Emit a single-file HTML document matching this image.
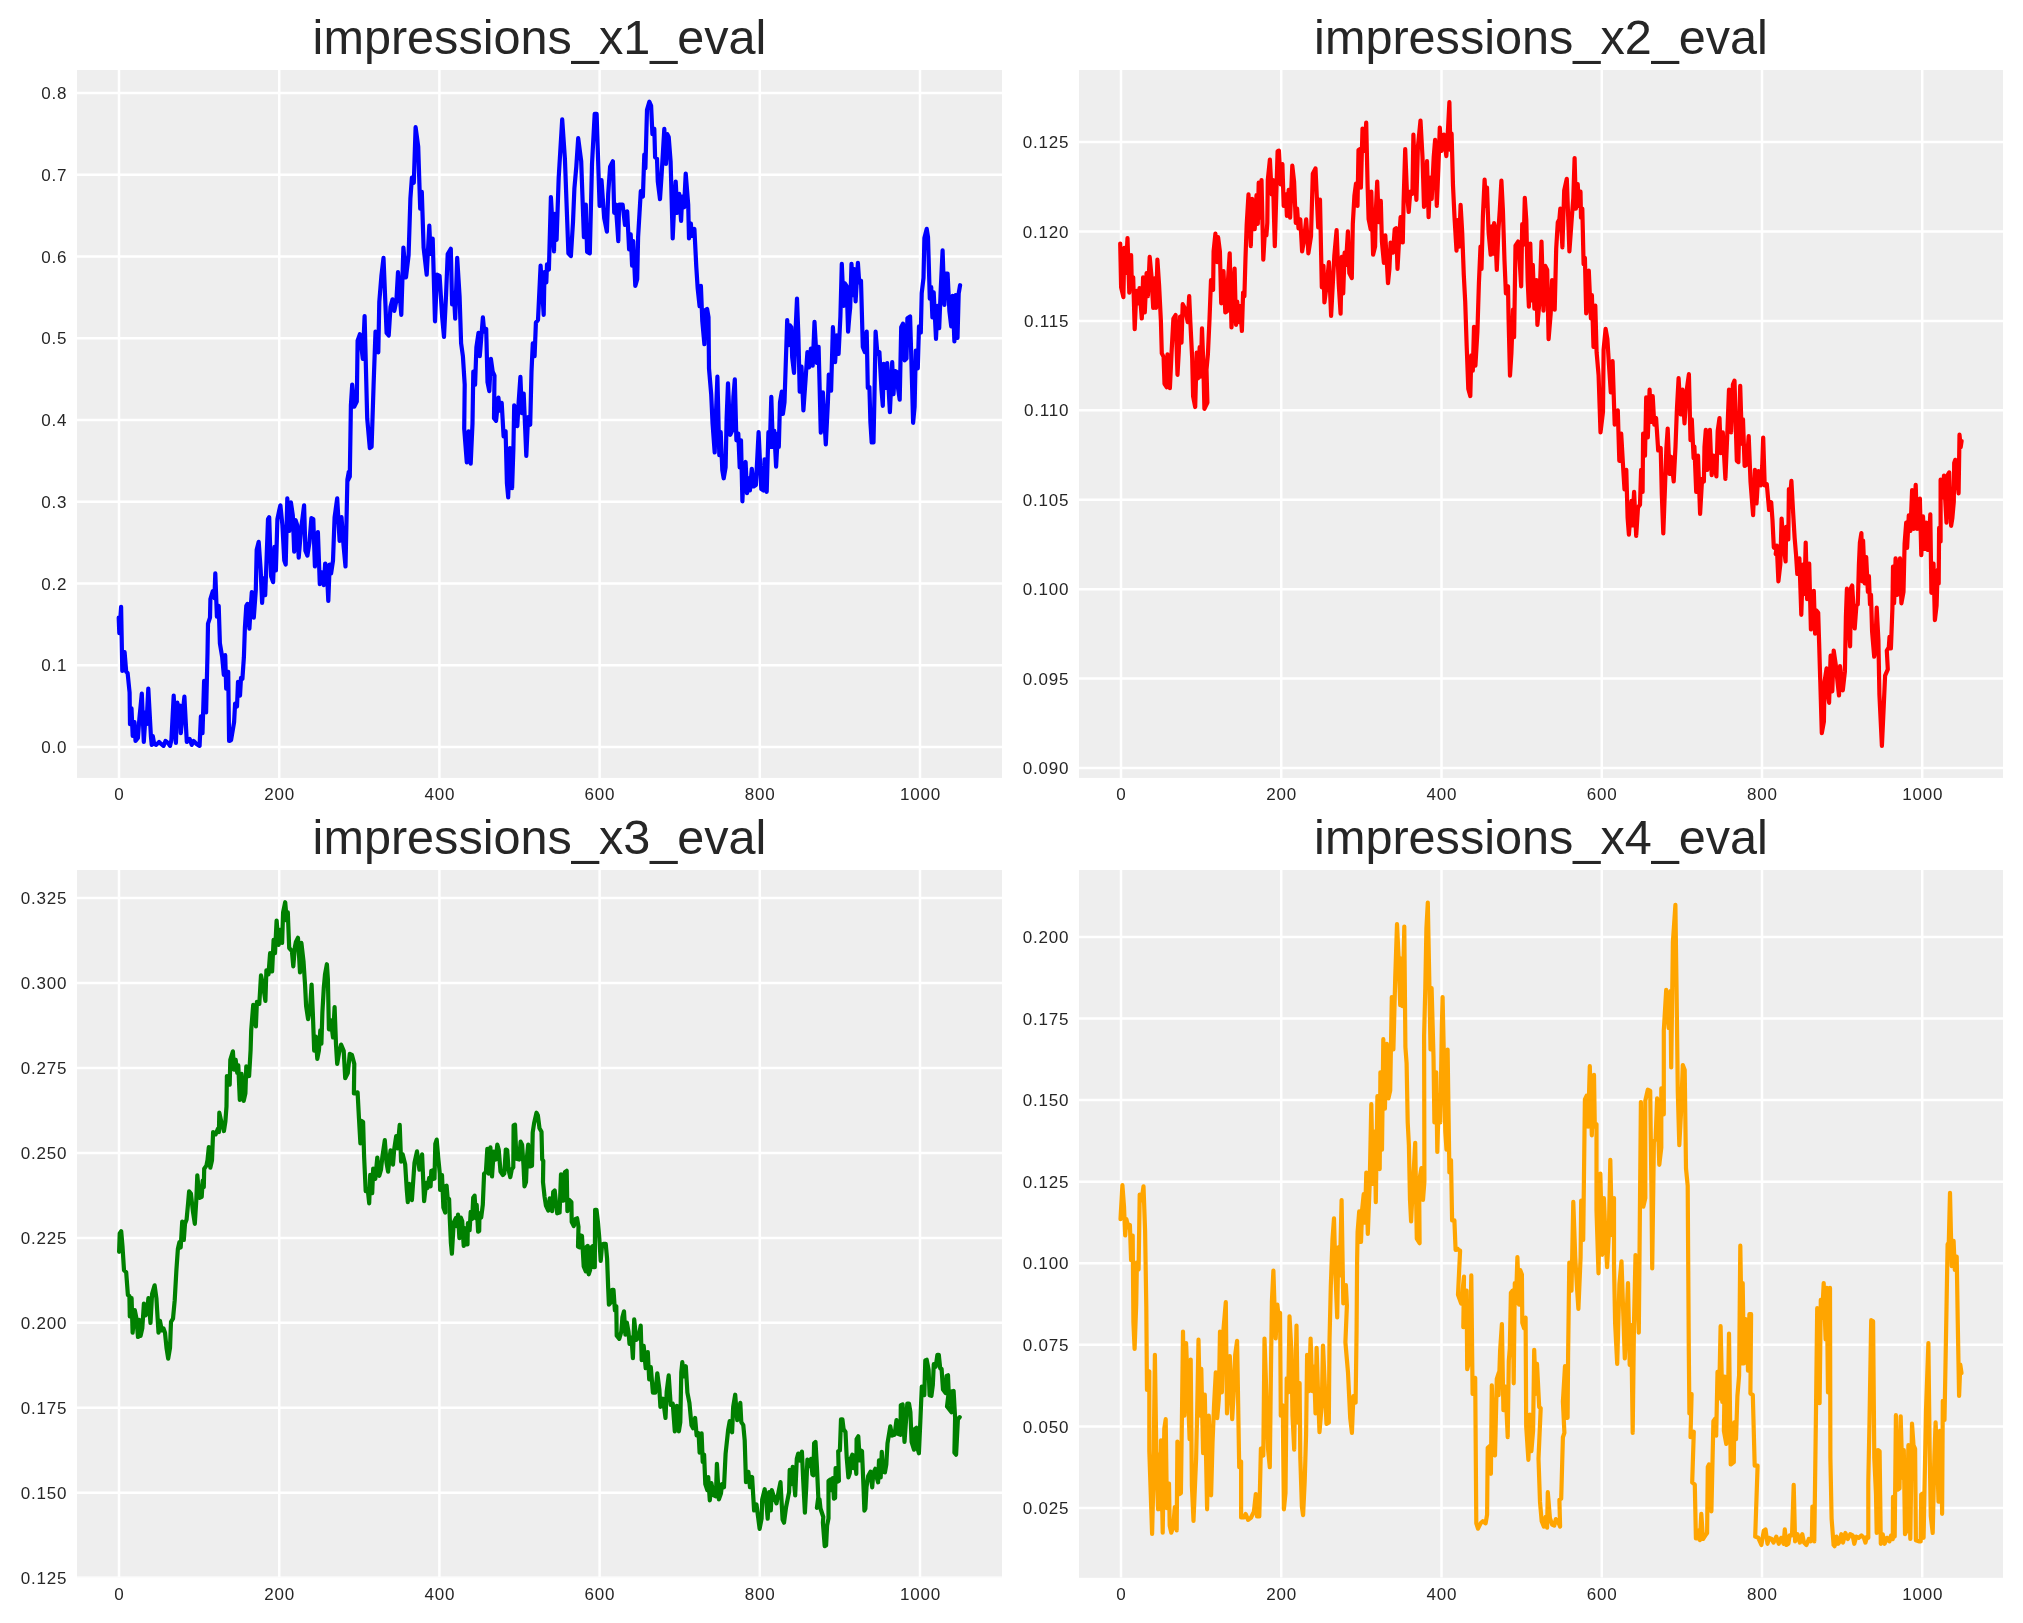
<!DOCTYPE html>
<html><head><meta charset="utf-8"><title>impressions eval</title>
<style>
html,body{margin:0;padding:0;background:#fff;}
body{width:2023px;height:1623px;overflow:hidden;}
svg{display:block;will-change:transform;}
text{font-family:"Liberation Sans",sans-serif;fill:#262626;}
.tk{font-size:17px;letter-spacing:0.8px;}
.tt{font-size:48.6px;}
</style></head><body>
<svg width="2023" height="1623" viewBox="0 0 2023 1623">
<rect x="0" y="0" width="2023" height="1623" fill="#ffffff"/>
<g>
<rect x="77" y="70" width="925" height="707.9" fill="#eeeeee"/>
<clipPath id="cp0"><rect x="77" y="70" width="925" height="707.9"/></clipPath>
<path d="M119.0 70 V777.9 M279.2 70 V777.9 M439.4 70 V777.9 M599.6 70 V777.9 M759.8 70 V777.9 M920.0 70 V777.9 M77 93.0 H1002 M77 174.8 H1002 M77 256.5 H1002 M77 338.3 H1002 M77 420.0 H1002 M77 501.8 H1002 M77 583.6 H1002 M77 665.3 H1002 M77 747.1 H1002" stroke="#ffffff" stroke-width="2.5" fill="none" clip-path="url(#cp0)"/>
<path d="M118.7 617.7 L119.3 633.1 L121.1 606.9 L122.3 671.0 L124.6 652.2 L126.2 671.9 L127.6 672.9 L129.6 692.6 L130.0 724.2 L131.5 708.4 L132.7 736.0 L134.5 722.2 L135.5 741.0 L137.9 738.0 L139.4 718.3 L141.8 693.6 L143.8 741.9 L145.7 712.4 L146.5 724.2 L148.3 688.7 L150.9 736.0 L151.7 744.9 L152.8 736.0 L154.2 743.9 L156.2 744.9 L159.1 741.9 L161.1 743.9 L163.5 745.9 L165.5 741.0 L168.0 742.9 L170.0 745.9 L171.4 740.0 L173.7 695.6 L175.9 742.9 L177.3 702.5 L178.5 716.3 L179.9 705.5 L180.8 733.1 L182.8 712.4 L184.4 696.6 L186.8 741.9 L189.7 739.0 L191.7 744.9 L193.7 741.0 L196.6 743.9 L199.6 745.9 L200.9 716.3 L202.5 733.1 L204.1 680.8 L206.1 712.4 L207.5 653.2 L208.0 623.6 L210.0 617.7 L210.4 599.0 L212.8 591.1 L214.4 598.0 L215.3 573.4 L216.9 616.7 L218.7 605.9 L219.9 643.4 L222.2 657.2 L223.8 674.9 L225.2 655.2 L226.2 688.7 L228.2 671.9 L229.1 741.0 L231.1 740.0 L234.1 722.2 L235.1 703.5 L237.0 706.5 L238.0 681.8 L240.0 695.6 L241.0 677.9 L242.4 678.8 L243.9 657.2 L244.9 627.6 L246.3 605.9 L247.5 603.9 L249.4 628.6 L250.8 605.9 L251.8 592.1 L253.8 617.7 L255.8 590.1 L256.7 549.7 L258.7 541.8 L260.7 570.4 L262.1 602.9 L263.6 578.3 L265.2 595.1 L266.6 558.6 L268.0 519.1 L269.2 517.2 L271.1 576.3 L273.1 582.2 L274.5 546.8 L275.9 570.4 L277.4 519.1 L279.0 511.3 L280.4 505.3 L282.4 525.1 L284.3 560.6 L285.7 564.5 L287.3 498.4 L289.3 531.0 L290.9 502.4 L292.8 515.2 L294.2 551.7 L295.6 520.1 L297.2 525.1 L298.7 557.6 L301.1 529.0 L304.1 505.3 L305.4 550.7 L307.4 555.6 L309.4 542.8 L311.4 518.2 L313.3 519.1 L314.9 566.5 L316.5 544.8 L317.9 532.0 L319.8 584.2 L321.8 572.4 L323.8 585.2 L325.2 563.5 L326.7 566.5 L328.3 601.0 L329.7 564.5 L331.1 573.4 L333.0 560.6 L334.6 517.2 L337.2 498.4 L339.6 540.8 L341.5 517.2 L343.5 544.8 L345.5 566.5 L347.4 479.7 L348.8 471.8 L347.8 480.4 L349.8 476.6 L350.9 405.4 L352.2 384.7 L354.2 406.7 L356.8 401.5 L357.6 340.7 L359.9 334.2 L362.8 358.8 L364.6 316.1 L367.2 418.3 L369.8 448.1 L371.6 446.8 L373.6 384.7 L375.5 331.6 L378.3 352.3 L379.3 301.9 L381.4 276.0 L383.5 257.9 L386.6 332.9 L388.7 335.5 L390.5 307.0 L392.5 299.3 L394.3 310.9 L396.4 300.6 L398.0 272.1 L401.3 314.8 L403.4 247.5 L406.0 277.3 L408.6 255.3 L410.4 198.3 L411.9 177.6 L413.8 182.8 L415.6 127.2 L418.2 146.6 L420.2 208.7 L421.8 191.9 L423.6 247.5 L426.7 274.7 L429.3 225.5 L430.6 254.0 L432.7 238.5 L435.0 321.3 L437.0 274.7 L439.6 276.0 L442.2 317.4 L444.0 336.8 L446.1 294.1 L447.7 254.0 L450.8 248.8 L452.1 304.5 L453.9 292.8 L455.2 318.7 L457.2 257.9 L459.6 296.7 L461.1 343.3 L462.9 356.2 L464.7 384.7 L464.2 428.7 L466.8 462.3 L468.6 431.3 L470.7 463.6 L472.5 423.5 L473.3 371.7 L475.1 384.7 L476.4 347.2 L478.5 332.9 L479.8 356.2 L482.9 317.4 L484.2 331.6 L486.2 329.0 L487.5 382.1 L489.3 391.1 L490.9 358.8 L492.7 371.7 L494.5 375.6 L494.0 418.3 L496.1 420.9 L498.4 397.6 L499.9 410.6 L501.7 402.8 L503.6 436.4 L505.6 431.3 L506.9 483.0 L508.2 497.3 L510.0 448.1 L512.1 488.2 L513.4 448.1 L514.2 405.4 L517.3 426.1 L518.6 402.8 L520.4 376.9 L521.9 413.1 L523.7 393.7 L526.3 455.8 L528.1 417.0 L530.2 424.8 L531.5 371.7 L532.8 343.3 L534.6 356.2 L535.9 322.6 L538.0 320.0 L540.6 265.6 L543.7 314.8 L544.5 272.1 L546.3 282.5 L547.0 264.3 L548.9 269.5 L550.9 197.0 L554.0 251.4 L554.8 213.9 L556.6 239.8 L558.7 177.6 L562.2 119.3 L564.9 158.6 L568.4 253.4 L570.9 256.1 L573.0 222.2 L574.4 188.4 L576.3 166.7 L578.2 138.2 L581.2 161.3 L583.9 237.1 L585.8 204.6 L587.1 252.0 L589.8 253.4 L592.0 164.0 L594.7 113.9 L596.6 113.9 L599.6 206.0 L601.5 180.2 L604.2 218.2 L606.9 231.7 L608.2 193.8 L610.1 166.7 L612.9 161.3 L614.2 212.8 L615.8 204.6 L618.3 241.2 L619.1 204.6 L622.6 204.6 L625.0 224.9 L627.2 211.4 L629.1 249.3 L630.7 234.4 L632.1 265.6 L633.2 241.2 L635.3 285.9 L637.2 279.1 L638.1 237.1 L640.8 191.1 L642.9 196.5 L644.3 154.5 L645.4 168.1 L647.0 109.8 L649.4 101.7 L651.1 105.7 L652.4 134.2 L654.3 128.8 L655.1 157.2 L657.0 158.6 L657.8 181.6 L660.0 199.2 L661.6 174.8 L664.3 128.8 L666.0 164.0 L667.3 134.2 L668.7 136.9 L670.6 161.3 L672.7 238.5 L674.1 207.3 L675.7 181.6 L677.3 212.8 L679.2 193.8 L681.1 220.9 L682.2 196.5 L684.1 207.3 L685.7 173.5 L688.2 204.6 L689.0 238.5 L690.9 223.6 L691.7 235.8 L694.4 229.0 L696.3 266.9 L697.7 288.6 L699.6 306.2 L700.9 285.9 L702.3 321.1 L704.4 344.2 L705.2 310.3 L707.1 308.9 L708.5 317.1 L709.0 368.5 L711.2 394.3 L712.6 424.1 L714.7 452.5 L716.1 410.5 L717.4 376.7 L719.3 455.2 L720.7 432.2 L722.3 470.1 L723.7 478.3 L725.6 467.4 L726.6 418.7 L728.0 383.4 L730.2 434.9 L732.1 430.9 L733.4 397.0 L734.8 379.4 L736.4 440.3 L738.3 433.6 L739.7 467.4 L741.0 440.3 L742.4 501.3 L743.7 470.1 L745.6 462.0 L747.0 493.2 L748.6 478.3 L749.9 490.5 L751.8 468.8 L753.7 486.4 L755.9 485.0 L758.6 432.2 L761.3 489.1 L763.5 490.5 L764.6 459.3 L766.7 491.8 L768.4 432.2 L769.8 446.9 L771.3 396.9 L772.9 446.9 L774.3 430.9 L776.1 466.6 L777.9 433.5 L778.8 446.9 L780.0 402.3 L781.8 391.6 L782.9 413.9 L784.5 402.3 L787.2 320.1 L788.6 345.1 L790.0 325.4 L791.3 327.2 L792.2 357.6 L794.0 372.8 L795.4 334.4 L797.0 298.6 L798.4 336.2 L799.7 391.6 L801.5 366.5 L803.4 410.3 L805.6 379.0 L807.4 352.2 L809.1 367.4 L810.9 348.7 L812.7 365.6 L814.5 321.9 L816.8 363.0 L818.6 346.9 L820.8 432.7 L822.9 392.4 L825.8 444.3 L827.9 402.3 L828.8 374.6 L831.1 390.7 L832.9 327.2 L835.1 362.1 L836.8 335.3 L838.6 354.0 L840.4 316.5 L841.8 263.8 L843.6 305.8 L844.9 283.4 L846.7 286.1 L848.1 331.7 L849.3 316.5 L850.2 307.6 L851.5 263.8 L852.9 295.1 L854.2 269.1 L855.6 301.3 L857.9 262.9 L859.2 282.5 L861.0 280.8 L862.8 346.9 L864.9 352.2 L866.7 331.7 L867.8 388.0 L869.4 387.1 L870.4 421.9 L871.7 442.5 L873.5 442.5 L874.4 398.7 L875.6 331.7 L877.4 354.0 L879.4 352.2 L881.5 389.8 L882.8 405.8 L883.7 363.9 L886.0 388.0 L887.2 363.0 L889.9 412.1 L892.2 362.1 L893.5 394.2 L894.9 371.0 L896.7 371.9 L898.0 388.0 L899.7 399.6 L901.2 327.2 L903.0 323.6 L904.7 360.3 L906.5 358.5 L907.4 318.3 L910.1 316.5 L911.9 379.0 L913.1 422.8 L914.6 406.7 L915.8 350.5 L917.8 368.3 L919.0 326.3 L920.8 332.6 L921.7 293.3 L923.5 278.1 L924.4 237.9 L926.7 228.9 L928.0 237.0 L929.8 298.6 L931.2 287.0 L932.4 317.4 L933.7 292.4 L936.0 338.8 L937.4 305.8 L939.2 328.1 L940.8 287.9 L942.6 250.4 L944.4 304.9 L945.8 273.6 L947.6 273.6 L949.4 311.1 L951.2 326.3 L952.6 295.9 L954.4 341.5 L955.7 295.1 L957.5 337.9 L958.7 293.3 L960.1 285.2" stroke="#0000ff" stroke-width="4.2" fill="none" stroke-linejoin="round" stroke-linecap="round" clip-path="url(#cp0)"/>
<text class="tk" x="119.4" y="799.9" text-anchor="middle">0</text>
<text class="tk" x="279.6" y="799.9" text-anchor="middle">200</text>
<text class="tk" x="439.8" y="799.9" text-anchor="middle">400</text>
<text class="tk" x="600.0" y="799.9" text-anchor="middle">600</text>
<text class="tk" x="760.2" y="799.9" text-anchor="middle">800</text>
<text class="tk" x="920.4" y="799.9" text-anchor="middle">1000</text>
<text class="tk" x="67.3" y="99.1" text-anchor="end">0.8</text>
<text class="tk" x="67.3" y="180.9" text-anchor="end">0.7</text>
<text class="tk" x="67.3" y="262.6" text-anchor="end">0.6</text>
<text class="tk" x="67.3" y="344.4" text-anchor="end">0.5</text>
<text class="tk" x="67.3" y="426.1" text-anchor="end">0.4</text>
<text class="tk" x="67.3" y="507.9" text-anchor="end">0.3</text>
<text class="tk" x="67.3" y="589.7" text-anchor="end">0.2</text>
<text class="tk" x="67.3" y="671.4" text-anchor="end">0.1</text>
<text class="tk" x="67.3" y="753.2" text-anchor="end">0.0</text>
<text class="tt" x="539.5" y="53.9" text-anchor="middle">impressions_x1_eval</text>
</g>
<g>
<rect x="1079" y="70" width="924" height="707.9" fill="#eeeeee"/>
<clipPath id="cp1"><rect x="1079" y="70" width="924" height="707.9"/></clipPath>
<path d="M1121.0 70 V777.9 M1281.2 70 V777.9 M1441.5 70 V777.9 M1601.8 70 V777.9 M1762.0 70 V777.9 M1922.2 70 V777.9 M1079 142.0 H2003 M1079 231.4 H2003 M1079 320.9 H2003 M1079 410.3 H2003 M1079 499.7 H2003 M1079 589.2 H2003 M1079 678.6 H2003 M1079 768.0 H2003" stroke="#ffffff" stroke-width="2.5" fill="none" clip-path="url(#cp1)"/>
<path d="M1120.2 243.5 L1121.1 287.3 L1123.4 297.1 L1124.3 247.9 L1125.7 273.0 L1127.5 238.1 L1129.3 292.6 L1131.1 255.1 L1131.8 282.8 L1133.2 277.4 L1134.7 329.2 L1136.4 290.8 L1138.2 303.3 L1139.5 288.1 L1141.8 318.5 L1143.1 277.4 L1144.8 312.3 L1146.6 273.0 L1147.9 296.2 L1149.7 256.9 L1151.5 276.5 L1153.2 307.8 L1154.7 278.3 L1156.1 307.8 L1157.4 259.6 L1159.1 285.5 L1160.9 321.2 L1161.8 353.4 L1163.6 356.9 L1164.5 383.8 L1166.8 387.3 L1167.5 354.3 L1169.9 388.2 L1171.7 349.8 L1173.4 318.5 L1175.6 315.0 L1177.5 374.8 L1178.8 351.6 L1180.1 316.7 L1181.5 342.7 L1182.7 304.2 L1185.1 308.7 L1187.7 322.1 L1189.2 296.2 L1190.4 323.0 L1192.2 358.7 L1193.1 396.3 L1195.2 407.0 L1196.7 352.5 L1197.9 378.4 L1199.7 347.1 L1200.6 376.6 L1202.0 328.4 L1203.3 363.2 L1204.4 408.8 L1207.4 402.5 L1206.5 369.5 L1207.9 354.3 L1209.5 319.4 L1211.0 280.1 L1213.1 289.9 L1213.6 251.5 L1215.4 233.6 L1217.2 262.2 L1218.1 237.2 L1219.9 251.5 L1221.2 303.3 L1223.5 271.2 L1225.3 312.3 L1227.0 311.4 L1227.9 281.9 L1229.7 253.3 L1231.5 327.5 L1232.8 297.1 L1234.6 268.5 L1236.0 324.8 L1237.2 301.6 L1239.0 322.1 L1240.1 306.0 L1241.9 331.0 L1243.1 292.6 L1244.4 296.2 L1245.5 257.8 L1246.7 224.7 L1248.5 194.3 L1250.8 246.2 L1252.1 198.8 L1254.7 229.2 L1256.5 195.2 L1257.8 223.8 L1258.7 182.7 L1260.1 217.6 L1261.5 180.0 L1263.3 259.6 L1264.6 236.3 L1266.4 235.4 L1267.3 222.9 L1267.8 180.0 L1269.9 159.5 L1271.7 194.3 L1273.0 180.0 L1274.8 246.2 L1276.2 197.9 L1277.6 151.4 L1278.9 150.6 L1280.7 184.5 L1282.4 164.0 L1283.7 205.9 L1286.0 194.3 L1286.9 215.8 L1288.7 189.9 L1290.1 217.6 L1292.3 165.7 L1294.1 181.8 L1295.8 222.9 L1297.1 208.6 L1298.5 228.3 L1300.3 219.3 L1302.1 251.5 L1303.9 240.8 L1306.2 219.3 L1308.4 253.3 L1311.0 236.3 L1312.8 173.8 L1315.5 168.4 L1318.2 227.4 L1320.0 199.7 L1321.8 287.3 L1323.5 265.8 L1324.4 302.4 L1327.1 281.9 L1328.9 262.2 L1331.1 315.8 L1332.5 289.9 L1334.3 256.0 L1336.6 230.1 L1338.7 283.7 L1340.6 313.7 L1341.8 256.8 L1343.2 293.4 L1344.6 252.7 L1345.9 264.9 L1347.9 231.3 L1349.3 273.0 L1351.8 278.1 L1352.8 224.2 L1354.4 195.8 L1356.0 183.6 L1357.5 205.9 L1358.5 150.0 L1360.1 149.0 L1360.9 187.6 L1362.5 128.6 L1364.6 151.0 L1366.2 122.5 L1367.6 185.6 L1368.6 219.1 L1370.7 229.3 L1371.3 191.7 L1373.1 254.7 L1375.1 246.6 L1375.8 212.0 L1377.2 181.5 L1378.8 222.2 L1380.8 200.8 L1381.9 241.5 L1383.9 262.9 L1385.3 235.4 L1388.0 283.2 L1389.4 269.0 L1390.6 242.5 L1393.0 252.7 L1394.7 229.3 L1396.1 228.3 L1397.5 269.0 L1399.1 239.5 L1400.6 217.1 L1402.8 242.5 L1403.6 201.9 L1405.2 149.0 L1406.9 191.7 L1408.7 212.0 L1410.3 191.7 L1412.4 193.7 L1413.4 134.7 L1415.0 177.5 L1416.4 199.8 L1417.9 146.9 L1420.5 120.5 L1422.5 157.1 L1424.0 206.9 L1425.6 197.8 L1427.0 161.2 L1428.6 217.1 L1430.1 177.5 L1431.7 198.8 L1433.7 157.1 L1435.1 139.8 L1436.8 205.9 L1438.4 167.3 L1439.8 127.6 L1441.5 151.0 L1443.9 134.7 L1446.3 156.1 L1447.6 136.8 L1449.4 102.2 L1450.4 150.0 L1451.6 133.7 L1453.0 185.6 L1454.5 217.1 L1456.5 250.7 L1457.7 220.2 L1459.1 246.6 L1460.6 204.9 L1462.2 232.4 L1463.8 275.1 L1465.2 301.5 L1466.7 346.3 L1468.3 389.0 L1470.3 396.1 L1471.3 355.4 L1472.8 370.7 L1474.0 326.9 L1475.4 365.6 L1477.4 332.0 L1478.9 283.2 L1480.5 246.6 L1481.5 269.0 L1482.9 216.1 L1484.6 179.5 L1486.0 205.9 L1487.0 187.6 L1488.6 232.4 L1490.7 254.7 L1491.7 226.3 L1493.3 253.7 L1494.1 223.2 L1495.1 228.3 L1496.8 270.0 L1498.4 230.3 L1499.8 210.0 L1501.4 180.5 L1502.9 210.0 L1504.5 260.8 L1505.9 293.4 L1508.0 286.3 L1508.6 319.8 L1510.0 375.7 L1511.4 353.4 L1513.0 309.6 L1514.1 337.1 L1515.5 245.6 L1518.1 241.5 L1519.5 258.8 L1521.2 286.3 L1522.2 224.2 L1523.6 244.6 L1524.8 197.8 L1526.3 220.2 L1527.7 281.2 L1528.9 306.6 L1530.3 243.5 L1531.7 300.5 L1532.8 264.9 L1534.4 308.6 L1536.4 280.2 L1537.4 324.9 L1539.5 301.5 L1541.5 241.5 L1543.5 310.7 L1545.2 265.9 L1547.2 270.0 L1548.6 339.1 L1550.7 313.7 L1552.1 280.2 L1554.7 309.6 L1556.2 248.6 L1557.8 222.2 L1559.4 219.1 L1560.3 208.6 L1562.4 247.4 L1564.2 190.5 L1566.8 178.8 L1569.4 251.3 L1572.0 215.0 L1573.3 198.2 L1574.6 158.1 L1575.9 208.6 L1577.7 184.0 L1579.0 206.0 L1580.5 191.7 L1581.0 217.6 L1582.3 208.6 L1583.6 264.2 L1584.9 257.7 L1586.2 313.4 L1588.3 300.4 L1588.8 270.7 L1590.9 318.5 L1591.9 295.2 L1593.5 347.0 L1595.3 305.6 L1596.6 352.2 L1598.6 375.4 L1600.5 432.4 L1603.0 411.7 L1603.6 349.6 L1605.6 328.9 L1607.4 339.2 L1609.0 365.1 L1610.8 392.3 L1612.6 361.2 L1614.7 424.6 L1617.8 410.4 L1619.3 460.8 L1621.2 433.7 L1623.2 468.6 L1624.5 489.3 L1626.3 469.9 L1627.6 517.7 L1628.9 534.6 L1631.5 500.9 L1632.3 525.5 L1634.1 491.9 L1636.2 535.9 L1638.0 507.4 L1640.0 504.8 L1641.1 469.9 L1642.6 491.9 L1643.1 433.7 L1645.0 455.7 L1646.2 397.4 L1647.8 437.5 L1649.6 389.7 L1650.9 422.0 L1652.7 396.1 L1654.3 424.6 L1656.1 418.1 L1658.2 450.5 L1660.7 447.9 L1661.8 494.5 L1663.3 533.3 L1665.1 484.1 L1666.4 447.9 L1667.7 428.5 L1669.5 473.8 L1671.1 456.9 L1673.7 481.5 L1675.5 446.6 L1676.8 411.7 L1678.6 378.0 L1680.7 414.3 L1682.5 389.7 L1684.5 423.3 L1686.6 391.0 L1688.9 374.2 L1690.5 440.1 L1691.8 419.4 L1693.6 458.2 L1694.4 446.6 L1696.2 491.9 L1698.0 455.7 L1700.1 513.9 L1702.1 478.9 L1703.9 481.5 L1704.5 446.6 L1705.8 429.8 L1707.3 469.9 L1709.9 429.8 L1711.7 475.1 L1713.5 455.7 L1716.4 476.4 L1717.7 431.1 L1719.5 418.1 L1720.8 453.1 L1722.8 432.4 L1725.4 478.9 L1727.2 436.2 L1729.0 389.7 L1731.1 432.4 L1732.9 384.5 L1734.5 380.6 L1736.8 460.8 L1738.4 462.1 L1740.2 385.8 L1742.0 444.0 L1743.0 419.4 L1744.6 466.0 L1746.6 464.7 L1748.7 436.2 L1750.5 481.5 L1753.1 515.2 L1754.9 469.9 L1756.5 503.5 L1758.5 471.2 L1760.9 485.4 L1762.2 466.0 L1763.2 437.5 L1764.7 485.4 L1766.8 484.1 L1769.1 510.0 L1771.2 502.2 L1772.5 520.3 L1773.8 547.5 L1776.4 548.8 L1775.7 554.1 L1776.8 545.7 L1778.4 581.3 L1780.3 564.6 L1781.6 518.5 L1783.5 545.7 L1785.6 561.4 L1786.2 526.9 L1788.3 539.4 L1788.9 489.1 L1790.4 493.3 L1791.4 480.8 L1793.1 512.2 L1794.6 537.3 L1796.0 554.1 L1797.3 574.0 L1799.4 558.3 L1801.3 614.8 L1802.9 564.6 L1804.4 593.9 L1805.7 542.6 L1807.1 599.1 L1809.2 563.5 L1810.9 629.5 L1812.4 610.7 L1813.8 590.8 L1815.1 633.7 L1816.6 610.7 L1818.2 612.8 L1819.1 642.1 L1820.3 681.9 L1821.8 733.2 L1823.9 721.7 L1824.5 681.9 L1826.6 668.3 L1827.5 692.4 L1829.1 702.8 L1830.6 655.7 L1832.3 691.3 L1833.7 650.5 L1835.8 665.1 L1837.5 681.9 L1839.0 695.5 L1840.0 666.2 L1842.8 690.3 L1844.9 671.4 L1845.9 616.9 L1846.9 588.7 L1850.1 646.3 L1851.1 587.6 L1852.2 585.5 L1854.7 628.5 L1856.4 605.4 L1857.8 604.4 L1858.9 564.6 L1859.9 542.6 L1861.4 533.1 L1862.2 581.3 L1863.1 540.5 L1864.8 583.4 L1866.2 557.2 L1867.9 591.8 L1868.9 576.1 L1870.0 604.4 L1871.0 594.9 L1872.1 631.6 L1874.2 656.7 L1875.2 650.5 L1876.7 607.5 L1878.4 640.0 L1879.4 694.5 L1881.9 745.8 L1883.6 709.1 L1885.1 675.6 L1887.8 669.3 L1886.8 650.5 L1888.8 647.3 L1889.5 636.8 L1890.9 648.4 L1892.4 608.6 L1893.0 566.7 L1894.1 603.3 L1895.6 558.3 L1897.2 594.9 L1898.3 583.4 L1900.0 558.3 L1901.4 603.3 L1903.5 591.8 L1904.6 543.6 L1906.2 522.7 L1907.1 547.8 L1908.8 515.3 L1910.4 531.0 L1912.1 490.2 L1913.6 528.9 L1915.7 484.9 L1917.1 528.9 L1918.8 508.0 L1919.9 498.6 L1921.3 555.1 L1923.0 516.4 L1924.5 548.8 L1926.1 522.7 L1927.6 549.9 L1928.9 540.5 L1930.3 514.3 L1931.4 592.8 L1933.5 563.5 L1934.9 620.1 L1936.6 605.4 L1937.7 569.8 L1938.7 583.4 L1939.1 527.9 L1940.6 541.5 L1940.6 479.7 L1942.3 497.5 L1944.0 475.5 L1945.4 502.8 L1946.5 522.7 L1947.9 474.5 L1949.2 472.4 L1951.1 525.8 L1952.3 518.5 L1953.8 501.7 L1954.2 462.9 L1955.3 459.8 L1956.9 478.7 L1958.6 493.3 L1959.5 434.7 L1960.7 447.2 L1961.6 441.0" stroke="#ff0000" stroke-width="4.2" fill="none" stroke-linejoin="round" stroke-linecap="round" clip-path="url(#cp1)"/>
<text class="tk" x="1121.4" y="799.9" text-anchor="middle">0</text>
<text class="tk" x="1281.7" y="799.9" text-anchor="middle">200</text>
<text class="tk" x="1441.9" y="799.9" text-anchor="middle">400</text>
<text class="tk" x="1602.2" y="799.9" text-anchor="middle">600</text>
<text class="tk" x="1762.4" y="799.9" text-anchor="middle">800</text>
<text class="tk" x="1922.7" y="799.9" text-anchor="middle">1000</text>
<text class="tk" x="1069.3" y="148.1" text-anchor="end">0.125</text>
<text class="tk" x="1069.3" y="237.5" text-anchor="end">0.120</text>
<text class="tk" x="1069.3" y="327.0" text-anchor="end">0.115</text>
<text class="tk" x="1069.3" y="416.4" text-anchor="end">0.110</text>
<text class="tk" x="1069.3" y="505.8" text-anchor="end">0.105</text>
<text class="tk" x="1069.3" y="595.3" text-anchor="end">0.100</text>
<text class="tk" x="1069.3" y="684.7" text-anchor="end">0.095</text>
<text class="tk" x="1069.3" y="774.1" text-anchor="end">0.090</text>
<text class="tt" x="1541.0" y="53.9" text-anchor="middle">impressions_x2_eval</text>
</g>
<g>
<rect x="77" y="870" width="925" height="707.8" fill="#eeeeee"/>
<clipPath id="cp2"><rect x="77" y="870" width="925" height="707.8"/></clipPath>
<path d="M119.0 870 V1577.8 M279.2 870 V1577.8 M439.4 870 V1577.8 M599.6 870 V1577.8 M759.8 870 V1577.8 M920.0 870 V1577.8 M77 898.0 H1002 M77 983.0 H1002 M77 1067.9 H1002 M77 1152.9 H1002 M77 1237.9 H1002 M77 1322.8 H1002 M77 1407.8 H1002 M77 1492.8 H1002 M77 1577.8 H1002" stroke="#ffffff" stroke-width="2.5" fill="none" clip-path="url(#cp2)"/>
<path d="M119.1 1251.8 L119.7 1233.5 L121.2 1231.3 L122.5 1246.4 L124.0 1270.2 L126.2 1272.3 L127.9 1295.0 L129.4 1296.0 L129.8 1316.5 L131.6 1298.2 L132.6 1332.7 L134.8 1310.1 L136.3 1317.6 L138.0 1337.0 L139.1 1319.8 L140.6 1335.9 L142.3 1328.4 L143.9 1303.6 L145.6 1315.4 L147.1 1311.1 L148.4 1298.2 L150.5 1323.0 L152.1 1293.9 L154.6 1285.3 L156.4 1298.2 L158.5 1332.7 L160.0 1320.8 L161.8 1330.5 L163.5 1328.4 L165.0 1332.7 L166.5 1347.8 L168.2 1358.6 L170.0 1347.8 L171.0 1321.9 L173.0 1318.7 L174.7 1300.4 L176.4 1270.2 L177.9 1248.6 L179.4 1242.1 L180.7 1247.5 L182.2 1221.6 L183.8 1240.0 L185.0 1223.8 L186.6 1219.5 L188.1 1203.3 L189.1 1191.4 L190.9 1193.6 L193.0 1211.9 L194.8 1223.8 L196.3 1200.1 L197.3 1175.3 L199.5 1197.9 L201.7 1196.8 L202.7 1180.7 L203.8 1187.1 L204.2 1168.8 L206.4 1165.6 L207.5 1160.2 L208.8 1147.2 L210.3 1167.7 L212.0 1160.2 L213.1 1132.1 L215.7 1134.3 L217.8 1128.9 L218.9 1132.1 L219.3 1112.7 L221.7 1123.5 L223.9 1131.1 L225.4 1121.4 L226.5 1106.3 L226.9 1076.1 L229.7 1084.7 L230.3 1059.9 L232.9 1051.3 L234.0 1069.6 L235.7 1059.9 L237.2 1072.8 L238.3 1065.3 L239.8 1099.8 L241.6 1073.9 L243.7 1100.9 L245.4 1093.3 L246.3 1066.4 L249.1 1076.1 L250.6 1050.2 L251.2 1030.4 L253.2 1004.9 L255.9 1026.3 L256.9 1001.9 L259.3 1003.9 L261.0 975.4 L262.8 983.6 L265.4 1000.9 L266.4 970.3 L268.5 974.4 L270.1 953.1 L272.1 971.4 L273.6 939.8 L275.0 953.1 L276.6 920.5 L278.6 944.9 L280.7 929.7 L282.1 942.9 L283.1 912.4 L285.2 902.2 L286.8 920.5 L287.8 912.4 L289.2 948.0 L291.9 951.0 L293.3 966.3 L294.9 947.0 L295.9 941.9 L298.0 937.8 L300.0 972.4 L301.4 942.9 L303.5 961.2 L305.1 985.6 L306.1 1005.9 L308.1 1019.2 L310.2 1005.9 L311.6 984.6 L312.8 1012.1 L314.2 1050.7 L315.7 1036.5 L317.3 1058.8 L318.9 1050.7 L320.3 1030.4 L321.4 1043.6 L322.4 1012.1 L323.8 987.6 L325.0 974.4 L326.9 964.2 L327.9 979.5 L328.9 1029.3 L330.9 1020.2 L333.0 1037.5 L334.6 1007.0 L336.0 1044.6 L337.2 1063.9 L339.1 1052.7 L341.1 1044.6 L343.7 1050.7 L345.2 1078.2 L347.8 1073.1 L349.8 1053.8 L351.9 1054.8 L354.3 1063.9 L353.9 1093.4 L357.6 1092.4 L359.0 1118.8 L360.4 1143.3 L361.6 1120.9 L363.1 1121.9 L364.1 1156.5 L365.7 1191.1 L367.7 1189.0 L369.2 1203.3 L370.2 1174.8 L372.2 1193.1 L373.2 1168.7 L375.3 1178.9 L377.3 1157.5 L379.3 1175.8 L381.0 1169.7 L382.4 1156.5 L384.8 1140.2 L386.5 1162.6 L388.1 1171.7 L390.5 1150.4 L393.0 1164.6 L394.2 1149.4 L396.2 1136.1 L397.6 1148.3 L399.7 1124.9 L401.1 1161.6 L402.7 1154.4 L405.2 1164.6 L406.8 1190.0 L407.8 1202.2 L409.2 1183.9 L411.9 1200.2 L414.5 1162.6 L417.0 1151.4 L419.4 1169.7 L422.1 1154.4 L424.1 1201.2 L426.1 1182.9 L427.6 1188.0 L429.2 1177.9 L430.6 1186.4 L431.3 1170.8 L432.5 1179.3 L433.0 1170.1 L434.5 1178.6 L435.3 1143.9 L436.7 1139.6 L438.4 1159.5 L439.8 1173.6 L440.1 1189.9 L442.0 1175.0 L443.4 1207.6 L445.2 1212.6 L444.4 1186.4 L446.6 1185.7 L447.6 1197.7 L449.1 1199.1 L449.8 1219.0 L450.9 1243.1 L451.9 1253.7 L453.3 1229.6 L454.0 1221.8 L455.7 1218.3 L456.6 1226.1 L458.0 1214.7 L459.4 1238.1 L460.8 1217.6 L462.2 1221.1 L463.7 1245.9 L464.6 1228.2 L466.1 1244.5 L467.5 1244.5 L467.9 1223.2 L469.6 1230.3 L470.7 1211.9 L472.2 1219.0 L473.2 1197.7 L474.6 1195.6 L476.0 1218.3 L476.7 1204.8 L478.1 1231.7 L479.2 1231.0 L479.5 1213.3 L481.2 1217.6 L482.8 1204.8 L484.1 1173.6 L485.9 1172.2 L487.3 1148.8 L488.7 1173.6 L490.4 1147.4 L492.0 1176.5 L493.7 1151.7 L495.8 1159.5 L497.3 1144.6 L498.7 1149.5 L500.5 1171.5 L502.9 1175.0 L504.3 1173.6 L505.8 1149.5 L507.2 1150.2 L508.6 1170.1 L510.3 1177.2 L511.8 1169.4 L513.3 1167.3 L513.6 1125.4 L515.0 1124.7 L516.4 1158.7 L519.2 1159.5 L520.6 1141.7 L522.1 1144.6 L523.5 1165.1 L524.5 1186.4 L526.0 1182.1 L527.0 1156.6 L528.2 1144.6 L529.9 1166.5 L532.0 1165.8 L532.7 1132.5 L534.1 1123.3 L536.5 1112.7 L537.9 1115.5 L539.5 1128.3 L541.5 1131.8 L542.2 1159.5 L543.3 1160.9 L543.0 1182.1 L544.5 1196.3 L545.9 1205.5 L548.3 1210.5 L549.7 1198.4 L551.1 1199.1 L552.1 1211.2 L553.2 1192.1 L554.7 1190.6 L556.1 1203.4 L557.2 1213.3 L559.6 1212.6 L561.0 1174.3 L562.5 1175.0 L563.4 1200.6 L564.9 1172.2 L566.7 1170.8 L567.4 1211.2 L569.1 1199.9 L571.4 1202.0 L571.7 1221.8 L573.8 1226.1 L575.6 1219.0 L577.1 1218.3 L578.5 1226.8 L578.0 1246.6 L579.5 1247.3 L580.5 1235.3 L582.0 1236.0 L583.7 1266.5 L585.8 1271.4 L586.1 1247.3 L587.7 1245.9 L588.7 1274.3 L590.1 1270.0 L591.5 1247.3 L592.9 1245.9 L593.6 1267.2 L594.8 1267.2 L595.1 1209.8 L596.5 1209.8 L597.9 1221.8 L599.3 1238.1 L600.7 1260.8 L602.1 1244.5 L604.0 1243.8 L605.7 1243.8 L607.1 1258.7 L608.2 1288.4 L608.9 1304.7 L610.6 1302.6 L612.1 1289.9 L613.5 1289.9 L614.9 1310.4 L616.3 1306.2 L616.7 1335.7 L619.3 1338.8 L621.3 1331.6 L622.4 1317.4 L624.0 1311.3 L625.4 1334.7 L626.8 1322.5 L628.5 1331.6 L629.5 1343.8 L631.5 1337.7 L632.9 1358.1 L634.2 1319.4 L636.2 1339.8 L638.6 1337.7 L640.7 1325.5 L641.7 1360.1 L643.7 1345.9 L645.7 1368.2 L647.8 1352.0 L649.2 1379.4 L650.8 1367.2 L652.9 1392.6 L655.3 1392.6 L657.3 1373.3 L659.4 1389.6 L660.4 1406.9 L663.0 1398.7 L665.5 1418.0 L666.7 1391.6 L668.7 1375.4 L670.7 1404.8 L672.8 1403.8 L674.8 1431.3 L676.8 1405.8 L678.9 1431.3 L680.3 1422.1 L681.3 1372.3 L682.3 1362.1 L683.8 1376.4 L685.8 1366.2 L687.4 1392.6 L689.4 1402.8 L691.5 1425.2 L693.1 1428.2 L695.1 1418.0 L696.6 1435.3 L698.6 1433.3 L699.6 1452.6 L701.6 1433.3 L702.7 1461.8 L704.1 1454.6 L705.3 1484.1 L707.3 1490.2 L708.2 1477.0 L709.8 1500.4 L711.4 1483.1 L713.8 1495.3 L715.9 1496.3 L716.9 1463.8 L718.9 1499.4 L721.0 1493.3 L722.0 1484.1 L724.0 1487.2 L725.6 1453.6 L728.1 1430.2 L729.7 1421.1 L732.1 1432.3 L733.2 1406.9 L735.2 1394.7 L737.2 1420.1 L740.3 1402.8 L741.3 1422.1 L743.3 1425.2 L744.7 1440.4 L746.0 1482.1 L748.4 1471.9 L750.0 1487.2 L752.1 1477.0 L754.1 1510.5 L756.5 1504.4 L758.2 1517.7 L759.6 1528.8 L761.6 1518.7 L762.2 1499.4 L764.7 1489.2 L766.3 1502.4 L767.7 1518.7 L769.1 1492.2 L770.8 1510.5 L771.8 1490.2 L773.8 1496.3 L776.5 1503.4 L778.5 1492.2 L780.5 1482.1 L782.6 1519.7 L784.0 1522.7 L786.0 1507.5 L789.1 1492.2 L789.7 1469.9 L791.5 1484.1 L792.7 1466.8 L795.2 1495.3 L796.8 1458.7 L798.2 1453.6 L800.2 1460.7 L801.9 1451.6 L803.3 1482.1 L804.9 1512.6 L806.3 1486.1 L807.4 1459.7 L809.4 1466.0 L811.0 1458.9 L812.4 1474.5 L813.4 1475.2 L814.1 1443.3 L815.5 1441.9 L816.9 1466.0 L818.3 1497.2 L816.9 1507.8 L819.5 1499.3 L820.5 1508.5 L823.3 1517.0 L822.9 1522.7 L824.7 1546.1 L826.1 1545.4 L827.1 1525.5 L828.5 1518.4 L828.5 1480.9 L830.4 1479.5 L831.4 1490.1 L832.8 1478.1 L833.9 1498.6 L835.1 1497.9 L835.6 1468.1 L837.5 1481.6 L838.9 1480.9 L838.2 1451.1 L839.9 1450.4 L841.0 1419.3 L842.4 1419.3 L843.6 1429.2 L845.5 1432.0 L846.7 1457.5 L848.4 1477.4 L849.8 1473.1 L850.9 1458.2 L852.3 1454.7 L853.5 1468.1 L854.9 1455.4 L856.3 1473.8 L856.6 1439.1 L858.3 1436.3 L859.7 1460.3 L860.6 1450.4 L862.0 1451.1 L863.4 1484.4 L864.4 1510.6 L865.4 1508.5 L866.5 1487.3 L868.2 1475.9 L870.5 1471.7 L872.2 1487.3 L873.3 1473.1 L875.3 1468.8 L876.7 1477.4 L878.1 1482.3 L879.0 1460.3 L880.7 1477.4 L881.8 1451.8 L883.2 1471.7 L884.9 1472.4 L886.3 1464.6 L887.5 1443.3 L888.9 1434.8 L890.3 1426.3 L892.0 1435.6 L894.6 1434.8 L896.5 1420.0 L898.4 1434.1 L900.5 1434.8 L900.8 1405.1 L902.6 1404.4 L904.5 1441.9 L905.9 1422.1 L907.3 1403.7 L909.0 1403.7 L910.4 1412.2 L911.6 1441.9 L914.0 1449.7 L914.7 1429.2 L916.4 1427.8 L917.5 1448.3 L918.9 1453.3 L920.3 1422.1 L921.8 1386.7 L924.3 1395.2 L925.3 1360.5 L926.7 1359.8 L928.6 1369.7 L929.6 1395.2 L931.4 1395.9 L932.8 1385.3 L933.8 1364.0 L935.7 1366.8 L937.4 1354.8 L938.8 1354.8 L940.2 1368.3 L941.6 1369.0 L943.0 1389.5 L945.6 1393.0 L946.6 1376.0 L948.0 1375.3 L948.7 1392.3 L947.0 1406.5 L951.5 1412.2 L951.2 1391.6 L953.6 1390.9 L955.1 1417.8 L954.4 1452.6 L956.1 1454.7 L957.9 1419.3 L959.7 1417.1" stroke="#008000" stroke-width="4.2" fill="none" stroke-linejoin="round" stroke-linecap="round" clip-path="url(#cp2)"/>
<text class="tk" x="119.4" y="1599.8" text-anchor="middle">0</text>
<text class="tk" x="279.6" y="1599.8" text-anchor="middle">200</text>
<text class="tk" x="439.8" y="1599.8" text-anchor="middle">400</text>
<text class="tk" x="600.0" y="1599.8" text-anchor="middle">600</text>
<text class="tk" x="760.2" y="1599.8" text-anchor="middle">800</text>
<text class="tk" x="920.4" y="1599.8" text-anchor="middle">1000</text>
<text class="tk" x="67.3" y="904.1" text-anchor="end">0.325</text>
<text class="tk" x="67.3" y="989.1" text-anchor="end">0.300</text>
<text class="tk" x="67.3" y="1074.0" text-anchor="end">0.275</text>
<text class="tk" x="67.3" y="1159.0" text-anchor="end">0.250</text>
<text class="tk" x="67.3" y="1244.0" text-anchor="end">0.225</text>
<text class="tk" x="67.3" y="1328.9" text-anchor="end">0.200</text>
<text class="tk" x="67.3" y="1413.9" text-anchor="end">0.175</text>
<text class="tk" x="67.3" y="1498.9" text-anchor="end">0.150</text>
<text class="tk" x="67.3" y="1583.9" text-anchor="end">0.125</text>
<text class="tt" x="539.5" y="853.9" text-anchor="middle">impressions_x3_eval</text>
</g>
<g>
<rect x="1079" y="870" width="924" height="707.8" fill="#eeeeee"/>
<clipPath id="cp3"><rect x="1079" y="870" width="924" height="707.8"/></clipPath>
<path d="M1121.0 870 V1577.8 M1281.2 870 V1577.8 M1441.5 870 V1577.8 M1601.8 870 V1577.8 M1762.0 870 V1577.8 M1922.2 870 V1577.8 M1079 937.0 H2003 M1079 1018.6 H2003 M1079 1100.1 H2003 M1079 1181.7 H2003 M1079 1263.3 H2003 M1079 1344.8 H2003 M1079 1426.4 H2003 M1079 1508.0 H2003" stroke="#ffffff" stroke-width="2.5" fill="none" clip-path="url(#cp3)"/>
<path d="M1120.5 1219.1 L1122.4 1185.2 L1124.0 1206.3 L1125.2 1235.5 L1126.4 1219.1 L1128.3 1227.3 L1129.9 1225.0 L1131.1 1260.1 L1132.7 1235.5 L1133.4 1322.1 L1134.6 1349.0 L1136.2 1304.6 L1136.9 1262.4 L1138.6 1269.5 L1139.7 1194.6 L1141.6 1200.4 L1143.5 1186.4 L1145.1 1230.8 L1146.3 1306.9 L1147.0 1390.0 L1149.3 1371.3 L1149.3 1450.8 L1152.1 1533.9 L1153.3 1485.9 L1154.9 1354.9 L1156.3 1450.8 L1158.0 1509.3 L1159.1 1454.3 L1160.3 1509.3 L1161.0 1440.3 L1162.7 1532.7 L1164.3 1428.6 L1165.7 1419.2 L1166.9 1508.2 L1169.0 1483.6 L1169.7 1525.7 L1171.3 1532.7 L1173.2 1526.9 L1174.8 1507.0 L1176.7 1530.4 L1177.4 1441.5 L1179.5 1494.1 L1180.9 1493.0 L1182.1 1404.0 L1183.0 1331.5 L1184.4 1415.7 L1186.1 1343.2 L1188.4 1404.0 L1189.6 1439.1 L1190.7 1359.6 L1191.9 1485.9 L1193.5 1521.0 L1196.1 1459.0 L1197.1 1415.7 L1198.5 1339.7 L1200.1 1415.7 L1201.3 1368.9 L1203.1 1453.2 L1204.8 1394.7 L1207.1 1509.3 L1208.8 1415.7 L1211.1 1495.3 L1212.5 1443.8 L1214.1 1404.0 L1215.8 1372.4 L1217.2 1418.1 L1218.8 1399.3 L1220.0 1331.5 L1221.9 1392.3 L1223.5 1329.1 L1225.8 1302.2 L1227.0 1413.4 L1229.8 1356.1 L1232.2 1419.2 L1233.6 1394.7 L1235.2 1354.9 L1237.1 1340.8 L1238.2 1406.4 L1239.2 1467.2 L1241.1 1461.4 L1241.1 1517.5 L1243.9 1517.5 L1245.7 1514.0 L1248.1 1519.9 L1251.1 1517.5 L1253.9 1511.7 L1255.8 1494.1 L1257.0 1516.4 L1259.3 1516.4 L1260.9 1448.5 L1263.3 1455.5 L1264.5 1338.5 L1266.3 1392.3 L1268.0 1448.5 L1269.8 1467.2 L1271.0 1366.6 L1271.9 1301.1 L1273.4 1270.6 L1274.5 1305.7 L1275.7 1338.5 L1277.3 1304.6 L1279.0 1319.8 L1280.1 1312.8 L1280.8 1415.7 L1282.7 1405.2 L1283.9 1509.3 L1285.5 1493.0 L1286.7 1378.3 L1288.3 1392.3 L1289.5 1316.3 L1291.4 1350.2 L1292.5 1415.7 L1294.2 1449.7 L1295.3 1380.6 L1296.5 1325.6 L1297.9 1422.7 L1299.6 1383.0 L1300.3 1457.9 L1301.9 1507.0 L1303.1 1515.2 L1304.7 1481.3 L1306.1 1434.5 L1307.1 1354.9 L1308.9 1391.2 L1310.6 1338.5 L1312.4 1391.2 L1314.1 1366.6 L1315.5 1413.4 L1316.6 1347.9 L1318.3 1400.5 L1319.5 1432.1 L1321.8 1404.0 L1323.0 1345.5 L1324.8 1385.3 L1326.5 1423.9 L1328.8 1422.7 L1329.5 1342.0 L1329.5 1341.2 L1330.8 1286.2 L1332.5 1238.8 L1334.0 1218.3 L1335.5 1275.4 L1337.2 1317.5 L1338.3 1247.4 L1339.8 1275.4 L1341.6 1200.0 L1343.3 1303.5 L1345.9 1285.1 L1346.9 1305.6 L1345.4 1342.3 L1348.0 1372.5 L1350.2 1417.7 L1351.9 1432.8 L1353.4 1396.2 L1355.6 1402.6 L1356.6 1329.3 L1357.1 1260.4 L1357.6 1231.8 L1359.2 1211.3 L1361.0 1242.0 L1362.2 1209.0 L1363.7 1194.2 L1364.9 1222.6 L1366.3 1172.5 L1367.8 1234.0 L1369.7 1183.9 L1371.3 1104.2 L1372.9 1183.9 L1374.7 1131.5 L1375.8 1202.1 L1377.4 1096.2 L1379.7 1169.1 L1380.4 1072.3 L1382.0 1149.7 L1383.3 1039.2 L1384.9 1108.7 L1386.8 1043.8 L1388.4 1098.5 L1390.2 1090.5 L1391.8 997.1 L1393.4 1049.5 L1395.2 978.9 L1397.0 924.2 L1398.6 957.2 L1400.2 1005.1 L1401.6 958.4 L1402.5 1006.2 L1404.3 926.5 L1405.4 1047.2 L1406.6 1063.2 L1407.7 1122.4 L1408.9 1145.2 L1410.0 1199.9 L1411.1 1221.5 L1413.0 1183.9 L1415.2 1142.9 L1416.8 1238.6 L1419.6 1243.2 L1419.1 1181.6 L1421.4 1168.0 L1423.0 1199.9 L1424.4 1181.6 L1424.1 1035.8 L1425.3 988.0 L1426.4 928.7 L1427.8 902.5 L1429.4 985.7 L1430.5 1049.5 L1431.6 988.0 L1433.5 1056.3 L1434.4 1122.4 L1436.2 1072.3 L1437.3 1152.0 L1438.9 1095.1 L1440.3 1122.4 L1441.9 1024.4 L1442.6 997.1 L1444.2 1072.3 L1445.3 1131.5 L1446.5 1149.7 L1447.6 1049.5 L1449.4 1172.5 L1451.0 1160.0 L1452.1 1220.4 L1454.4 1220.4 L1455.6 1250.0 L1457.8 1248.9 L1458.0 1249.6 L1460.1 1250.7 L1458.0 1294.8 L1461.2 1303.5 L1464.0 1276.5 L1463.3 1327.2 L1466.6 1290.5 L1467.2 1369.2 L1469.8 1359.5 L1471.3 1275.4 L1472.6 1394.0 L1475.2 1377.8 L1476.3 1523.3 L1478.0 1528.7 L1480.6 1523.3 L1482.8 1521.2 L1485.6 1523.3 L1487.1 1514.7 L1487.7 1447.9 L1490.3 1445.7 L1490.9 1473.8 L1491.8 1385.4 L1493.5 1454.4 L1495.0 1455.4 L1496.8 1378.9 L1498.9 1372.5 L1498.6 1395.1 L1500.1 1350.9 L1501.9 1324.0 L1503.4 1410.2 L1505.5 1386.5 L1507.7 1437.2 L1508.8 1360.6 L1509.8 1348.8 L1510.9 1292.7 L1512.6 1290.6 L1513.7 1383.3 L1514.8 1283.0 L1515.9 1303.5 L1517.4 1257.1 L1519.1 1304.6 L1520.2 1270.1 L1521.9 1274.4 L1522.3 1322.9 L1524.1 1328.3 L1525.6 1317.5 L1526.2 1426.4 L1528.4 1459.8 L1529.9 1414.5 L1531.4 1451.2 L1533.1 1430.7 L1534.2 1349.8 L1535.7 1394.0 L1537.0 1363.9 L1539.2 1407.0 L1540.7 1408.1 L1538.5 1458.7 L1540.0 1501.9 L1541.7 1521.3 L1543.9 1526.6 L1545.6 1516.9 L1547.1 1527.7 L1547.8 1492.2 L1549.9 1518.0 L1552.1 1524.5 L1554.3 1525.6 L1555.8 1519.1 L1557.9 1521.3 L1560.1 1526.6 L1559.4 1499.7 L1561.2 1498.6 L1562.9 1437.2 L1564.4 1432.9 L1562.9 1401.6 L1565.0 1366.0 L1565.9 1417.8 L1567.6 1417.8 L1568.1 1355.2 L1569.3 1262.5 L1571.5 1290.6 L1573.3 1201.8 L1575.2 1256.1 L1576.9 1286.2 L1578.4 1308.9 L1580.6 1257.1 L1581.2 1200.6 L1583.2 1240.0 L1584.9 1099.5 L1586.6 1095.8 L1588.1 1126.6 L1589.8 1066.2 L1591.8 1135.3 L1594.0 1074.9 L1594.8 1126.6 L1596.5 1124.2 L1596.5 1210.4 L1598.5 1273.3 L1600.4 1173.5 L1602.2 1254.8 L1603.9 1198.1 L1605.4 1235.1 L1607.1 1267.1 L1608.8 1235.1 L1610.3 1159.9 L1612.0 1235.1 L1614.0 1198.1 L1614.0 1264.7 L1615.1 1322.9 L1617.2 1363.9 L1619.4 1284.1 L1621.5 1261.4 L1624.8 1358.5 L1628.0 1283.0 L1629.7 1364.9 L1631.2 1325.1 L1632.7 1432.9 L1634.0 1322.9 L1635.5 1255.0 L1638.8 1332.6 L1640.9 1102.0 L1643.3 1206.7 L1645.3 1198.1 L1645.3 1100.7 L1647.8 1089.7 L1650.2 1090.9 L1651.4 1185.8 L1652.2 1268.4 L1653.9 1141.4 L1655.6 1139.0 L1657.1 1098.3 L1659.3 1164.8 L1661.3 1147.6 L1661.3 1088.4 L1663.8 1114.3 L1663.8 1030.5 L1666.2 989.8 L1668.7 1028.0 L1670.4 991.1 L1671.2 1067.5 L1672.9 941.8 L1675.4 904.8 L1676.6 993.5 L1677.8 1092.1 L1679.3 1145.1 L1681.0 1113.1 L1682.8 1065.0 L1684.7 1069.9 L1686.0 1168.5 L1687.7 1185.8 L1688.8 1350.9 L1689.4 1413.5 L1691.6 1394.0 L1690.5 1437.2 L1693.8 1431.8 L1692.2 1482.4 L1694.8 1484.6 L1695.9 1538.5 L1698.1 1538.5 L1698.2 1530.6 L1699.9 1540.2 L1701.3 1513.8 L1703.0 1539.0 L1705.4 1535.4 L1707.1 1533.0 L1707.8 1466.9 L1709.0 1464.5 L1711.4 1511.3 L1713.4 1421.2 L1715.0 1418.8 L1716.2 1435.6 L1717.5 1371.9 L1719.1 1398.4 L1720.6 1326.2 L1722.3 1402.0 L1724.7 1376.7 L1723.9 1430.8 L1726.3 1444.0 L1727.8 1410.4 L1729.0 1333.5 L1730.7 1464.5 L1733.8 1462.1 L1734.3 1422.4 L1736.0 1439.2 L1737.4 1396.0 L1739.1 1375.5 L1740.3 1245.7 L1742.2 1363.5 L1742.7 1283.0 L1743.9 1363.5 L1745.6 1319.0 L1747.0 1320.2 L1748.0 1370.7 L1749.4 1314.2 L1751.1 1314.2 L1750.4 1393.6 L1752.8 1394.8 L1754.7 1465.7 L1757.6 1465.7 L1755.2 1536.6 L1758.3 1537.8 L1761.4 1545.0 L1763.8 1530.6 L1765.5 1529.4 L1767.5 1543.8 L1769.1 1537.8 L1771.5 1539.0 L1773.5 1542.6 L1776.3 1536.6 L1778.8 1543.8 L1781.2 1537.8 L1783.6 1543.8 L1784.8 1529.4 L1786.4 1545.0 L1788.4 1543.8 L1789.6 1535.4 L1792.0 1535.4 L1793.7 1484.9 L1795.1 1541.4 L1797.5 1534.2 L1799.9 1542.6 L1802.3 1534.2 L1804.0 1542.6 L1806.4 1545.0 L1808.8 1539.0 L1810.5 1541.4 L1811.9 1536.6 L1812.4 1506.5 L1814.3 1541.4 L1816.0 1410.4 L1817.2 1308.2 L1819.6 1403.2 L1820.8 1299.8 L1822.0 1317.8 L1823.7 1283.0 L1825.6 1339.5 L1826.8 1287.8 L1828.0 1392.4 L1830.0 1287.8 L1830.4 1458.5 L1831.6 1518.6 L1833.6 1545.0 L1834.6 1546.2 L1836.5 1536.6 L1838.2 1543.8 L1839.9 1541.4 L1841.3 1534.2 L1843.0 1542.6 L1845.4 1533.0 L1847.8 1539.0 L1850.2 1534.2 L1852.6 1535.4 L1854.3 1543.8 L1856.2 1536.6 L1858.7 1537.8 L1861.5 1535.4 L1863.9 1537.8 L1865.4 1542.6 L1867.1 1536.6 L1868.3 1537.8 L1868.3 1482.5 L1869.5 1421.2 L1871.2 1320.2 L1873.1 1321.4 L1874.3 1458.5 L1876.0 1494.5 L1876.7 1533.0 L1877.9 1450.0 L1879.6 1451.2 L1880.8 1543.8 L1882.7 1534.2 L1884.6 1543.8 L1887.0 1537.8 L1889.4 1541.4 L1891.1 1535.4 L1892.8 1539.0 L1893.0 1496.9 L1894.7 1536.6 L1895.9 1415.2 L1897.6 1489.7 L1899.5 1488.5 L1900.7 1416.4 L1902.4 1477.7 L1903.8 1450.0 L1905.0 1534.2 L1906.7 1530.6 L1908.4 1445.2 L1910.3 1539.0 L1912.0 1423.6 L1913.5 1445.2 L1915.1 1448.8 L1915.9 1540.2 L1918.8 1541.4 L1920.7 1541.4 L1921.2 1494.5 L1923.1 1493.3 L1923.6 1537.8 L1926.0 1410.4 L1928.4 1343.1 L1929.6 1446.4 L1930.8 1516.2 L1932.7 1533.0 L1934.4 1456.1 L1935.6 1422.4 L1937.5 1468.1 L1938.5 1501.7 L1939.9 1430.8 L1941.6 1458.5 L1942.1 1513.8 L1942.8 1400.8 L1944.5 1420.0 L1946.4 1314.2 L1947.6 1244.5 L1948.8 1242.1 L1950.0 1192.8 L1951.7 1266.2 L1953.6 1240.9 L1954.8 1269.8 L1956.7 1256.5 L1957.7 1319.0 L1959.1 1396.0 L1960.3 1364.7 L1961.5 1373.1" stroke="#ffa500" stroke-width="4.2" fill="none" stroke-linejoin="round" stroke-linecap="round" clip-path="url(#cp3)"/>
<text class="tk" x="1121.4" y="1599.8" text-anchor="middle">0</text>
<text class="tk" x="1281.7" y="1599.8" text-anchor="middle">200</text>
<text class="tk" x="1441.9" y="1599.8" text-anchor="middle">400</text>
<text class="tk" x="1602.2" y="1599.8" text-anchor="middle">600</text>
<text class="tk" x="1762.4" y="1599.8" text-anchor="middle">800</text>
<text class="tk" x="1922.7" y="1599.8" text-anchor="middle">1000</text>
<text class="tk" x="1069.3" y="943.1" text-anchor="end">0.200</text>
<text class="tk" x="1069.3" y="1024.7" text-anchor="end">0.175</text>
<text class="tk" x="1069.3" y="1106.2" text-anchor="end">0.150</text>
<text class="tk" x="1069.3" y="1187.8" text-anchor="end">0.125</text>
<text class="tk" x="1069.3" y="1269.4" text-anchor="end">0.100</text>
<text class="tk" x="1069.3" y="1350.9" text-anchor="end">0.075</text>
<text class="tk" x="1069.3" y="1432.5" text-anchor="end">0.050</text>
<text class="tk" x="1069.3" y="1514.1" text-anchor="end">0.025</text>
<text class="tt" x="1541.0" y="853.9" text-anchor="middle">impressions_x4_eval</text>
</g>
</svg>
</body></html>
